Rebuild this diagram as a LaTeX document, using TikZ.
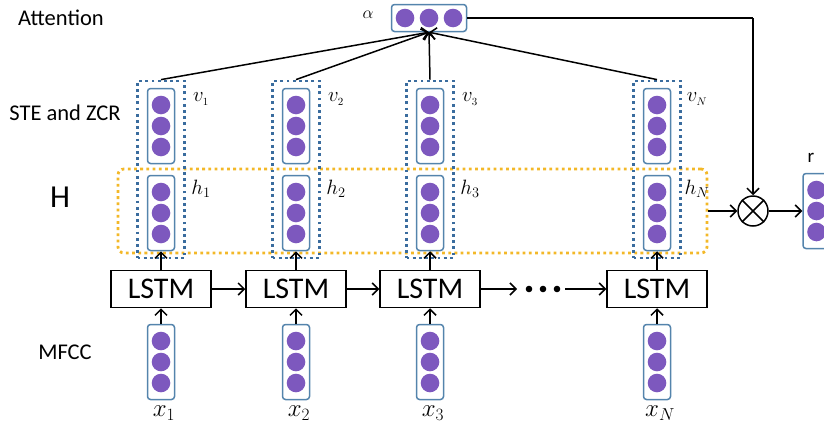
\documentclass[tikz,border=0pt]{standalone}
\usepackage{fontspec}
\setmainfont{Carlito}
\usetikzlibrary{arrows.meta}
\definecolor{dotc}{RGB}{125,88,190}
\definecolor{boxc}{RGB}{84,132,172}
\definecolor{bdot}{RGB}{58,108,158}
\definecolor{odot}{RGB}{243,184,40}
\tikzset{
  vecbox/.style={draw=boxc, line width=1.5pt, rounded corners=3pt, minimum width=27pt, minimum height=75pt, inner sep=0pt},
  hvecbox/.style={draw=boxc, line width=1.5pt, rounded corners=3pt, minimum width=75pt, minimum height=27pt, inner sep=0pt},
  bluedots/.style={draw=bdot, line width=2.8pt, dash pattern=on 2.8pt off 3.4pt, minimum width=47pt, minimum height=177pt, inner sep=0pt},
  lstm/.style={draw, line width=1.5pt, minimum width=100pt, minimum height=37pt, inner sep=0pt, font=\fontsize{30}{32}\selectfont},
  arr/.style={line width=1.5pt, -{Straight Barb[length=6pt,width=12pt,line width=1.5pt]}},
  lab/.style={font=\fontsize{22.5}{26}\selectfont},
  vlab/.style={font=\fontsize{21}{23}\selectfont},
  xlab/.style={font=\fontsize{26}{28}\selectfont},
  otimes/.style={draw, line width=1.5pt, circle, minimum size=30pt, inner sep=0pt}
}
\newcommand{\threedots}[2]{%
  \fill[dotc] (#1,#2-21) circle (9.3);
  \fill[dotc] (#1,#2) circle (9.3);
  \fill[dotc] (#1,#2+21) circle (9.3);}
\begin{document}
\begin{tikzpicture}[x=1pt,y=-1pt]
\useasboundingbox (0,0) rectangle (824,434);
% labels left
\node[lab] (tatt) at (61,18) {Attention};
\node[lab] (tste) at (65,113) {STE and ZCR};
\node[font=\fontsize{32}{34}\selectfont] (tH) at (60,197) {H};
\node[lab] (tmfcc) at (65,352) {MFCC};
% orange dotted box
\node[draw=odot, line width=2.8pt, dash pattern=on 2.8pt off 3.4pt, rounded corners=6pt, minimum width=589pt, minimum height=84pt, inner sep=0pt] (H) at (412.5,211) {};
% attention vector
\node[hvecbox] (alpha) at (429,18) {};
\fill[dotc] (405,18) circle (9.3);
\fill[dotc] (429,18) circle (9.3);
\fill[dotc] (453,18) circle (9.3);
\node[font=\fontsize{19}{21}\selectfont] (talpha) at (368,15) {$\alpha$};
% columns
\foreach \n/\c/\s in {1/161/1,2/296/2,3/430/3,4/657/N}{
  \node[bluedots] (bd\n) at (\c,169.5) {};
  \node[vecbox] (v\n) at (\c,126) {};
  \threedots{\c}{126}
  \node[vecbox] (h\n) at (\c,213) {};
  \threedots{\c}{213}
  \node[vecbox] (x\n) at (\c,362) {};
  \threedots{\c}{362}
  \node[lstm] (l\n) at (\c,289) {LSTM};
  \node[vlab] (tv\n) at (\c+40,99) {$v_{\scriptscriptstyle\s}$};
  \node[font=\fontsize{21}{23}\selectfont] (th\n) at (\c+40,189) {$h_{\s}$};
  \node[xlab] (tx\n) at (\c+3,413) {$x_{\s}$};
  \draw[arr] (x\n.north) -- (l\n.south);
  \draw[arr] (l\n.north) -- (h\n.south);
  \draw[arr] (bd\n.north) -- (alpha.south);
}
% LSTM chain
\draw[arr] (l1.east) -- (l2.west);
\draw[arr] (l2.east) -- (l3.west);
\coordinate (d0) at (517,289);
\draw[arr] (l3.east) -- (d0);
\fill (529,289) circle (3.3) (543,289) circle (3.3) (557,289) circle (3.3);
\coordinate (d1) at (565,289);
\draw[arr] (d1) -- (l4.west);
% combine
\node[otimes] (ot) at (753,211) {};
\draw[line width=1.5pt] (ot.north west) -- (ot.south east) (ot.north east) -- (ot.south west);
\coordinate (corner) at (753,18);
\draw[line width=1.5pt] (alpha.east) -- (corner);
\draw[arr] (corner) -- (ot.north);
\draw[arr] (H.east) -- (ot.west);
\node[vecbox] (r) at (816.5,211) {};
\threedots{816.5}{211}
\node[font=\fontsize{19}{21}\selectfont] (tr) at (811,158) {r};
\draw[arr] (ot.east) -- (r.west);
\end{tikzpicture}
\end{document}
